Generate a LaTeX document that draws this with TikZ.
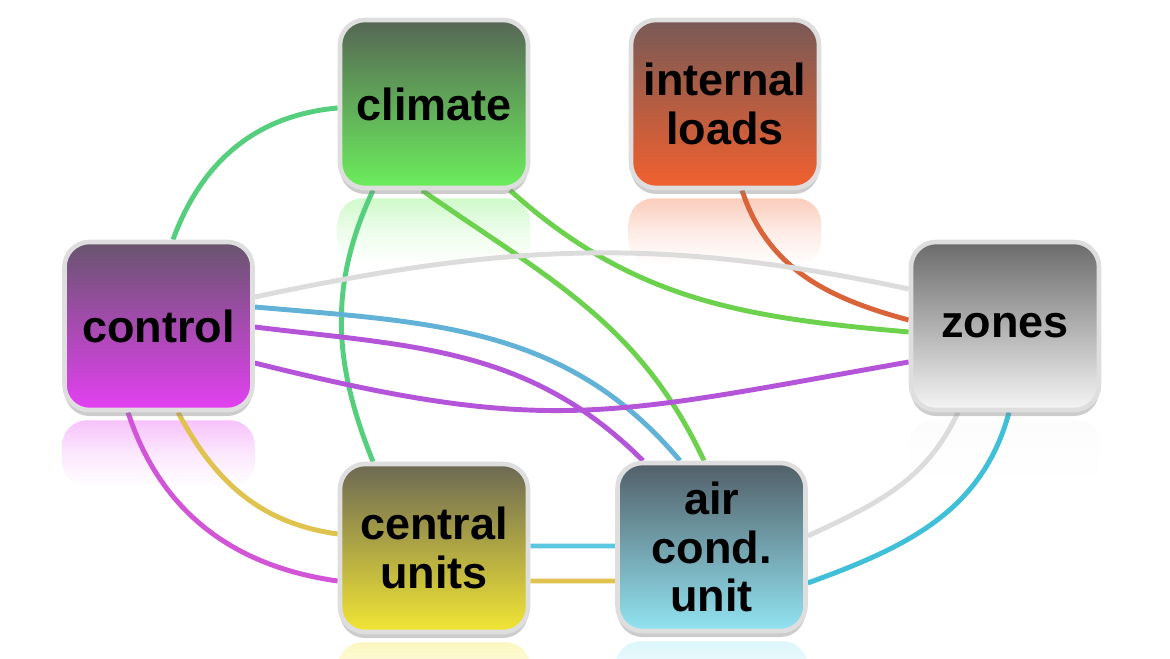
\documentclass[tikz,border=0pt]{standalone}
\usepackage{fontspec}
\setmainfont{Liberation Sans}
\usetikzlibrary{shadows}
\pgfdeclarelayer{refl}
\pgfdeclarelayer{wires}
\pgfsetlayers{refl,wires,main}
\definecolor{boxRim}{HTML}{DEDEDE}
\definecolor{climTop}{HTML}{566655}
\definecolor{climBot}{HTML}{6BEE5C}
\definecolor{loadTop}{HTML}{785A56}
\definecolor{loadBot}{HTML}{F2602E}
\definecolor{ctrlTop}{HTML}{68556E}
\definecolor{ctrlBot}{HTML}{E440F2}
\definecolor{zoneTop}{HTML}{6B6B6B}
\definecolor{zoneBot}{HTML}{F5F5F5}
\definecolor{centTop}{HTML}{6C6854}
\definecolor{centBot}{HTML}{F2E634}
\definecolor{acuTop}{HTML}{525F68}
\definecolor{acuBot}{HTML}{92E4F2}
\definecolor{greenA}{HTML}{55CF7E}
\definecolor{greenB}{HTML}{6CD24E}
\definecolor{orangeW}{HTML}{D9643A}
\definecolor{grayW}{HTML}{DCDCDC}
\definecolor{blueW}{HTML}{62B2D8}
\definecolor{purpleW}{HTML}{B455D9}
\definecolor{magentaW}{HTML}{D255D8}
\definecolor{goldW}{HTML}{E0C24E}
\definecolor{cyanW}{HTML}{5CC8E0}
\definecolor{cyanWW}{HTML}{3FC0D8}
\begin{document}
\begin{tikzpicture}[block/.style={rectangle,rounded corners=2.5mm,draw=boxRim,line width=1.3pt,
    minimum width=1.88cm,minimum height=1.68cm,align=center,
    font=\fontsize{12.8}{13.8}\selectfont\bfseries,
    drop shadow={shadow xshift=0pt,shadow yshift=-0.6mm,opacity=.4}},
  wire/.style={line width=1.4pt}]
\useasboundingbox (0,0) rectangle (11.70,6.58);
\path
(4.34,5.54) node [block,top color=climTop,bottom color=climBot] (climate) {climate}
(7.25,5.54) node [block,top color=loadTop,bottom color=loadBot] (loads) {internal\\loads}
(1.585,3.32) node [block,top color=ctrlTop,bottom color=ctrlBot] (control) {control}
(10.05,3.32) node [block,top color=zoneTop,bottom color=zoneBot] (zones) {zones}
(4.34,1.10) node [block,top color=centTop,bottom color=centBot] (central) {central\\units}
(7.115,1.11) node [block,top color=acuTop,bottom color=acuBot] (acu) {air\\cond.\\unit}
;
%reflections
\begin{pgfonlayer}{refl}
\foreach \n/\c in {climate/climBot,loads/loadBot,control/ctrlBot,zones/zoneBot,central/centBot,acu/acuBot}
  \shade[top color=\c!32!white,bottom color=white,middle color=\c!12!white,rounded corners=2.5mm]
    ([yshift=-0.8mm]\n.south west) rectangle ([yshift=-7.5mm]\n.south east);
\end{pgfonlayer}
\begin{pgfonlayer}{wires}
\draw[wire,greenA] ([yshift=-0.4mm]climate.west) to[out=185,in=70] ([xshift=1.45mm]control.north);
\draw[wire,greenA] ([xshift=-6.1mm]climate.south) to[out=245,in=112] ([xshift=-6.1mm]central.north);
\draw[wire,greenB] ([xshift=-1.2mm]climate.south) to[out=-35,in=115] ([xshift=-0.75mm]acu.north);
\draw[wire,greenB] ([xshift=7.6mm]climate.south) to[out=-42,in=175] ([yshift=-0.6mm]zones.west);
\draw[wire,orangeW] ([xshift=1.7mm]loads.south) to[out=-72,in=165] ([yshift=0.6mm]zones.west);
\draw[wire,grayW] ([yshift=2.9mm]control.east) to[out=12,in=168] ([yshift=3.7mm]zones.west);
\draw[wire,blueW] ([yshift=1.9mm]control.east) to[out=-5,in=130] ([xshift=-3.15mm]acu.north);
\draw[wire,purpleW] ([yshift=-0.1mm]control.east) to[out=-7,in=135] ([xshift=-6.85mm]acu.north);
\draw[wire,purpleW] ([yshift=-3.7mm]control.east) to[out=-14,in=190,looseness=1.2] ([yshift=-3.6mm]zones.west);
\draw[wire,magentaW] ([xshift=-3.05mm]control.south) to[out=-72,in=172] ([yshift=-3.3mm]central.west);
\draw[wire,goldW] ([xshift=1.95mm]control.south) to[out=-62,in=172] ([yshift=1.4mm]central.west);
\draw[wire,cyanW] ([yshift=0.2mm]central.east) -- ([yshift=0.1mm]acu.west);
\draw[wire,goldW] ([yshift=-3.3mm]central.east) -- ([yshift=-3.4mm]acu.west);
\draw[wire,grayW] ([xshift=-4.7mm]zones.south) to[out=245,in=25] ([yshift=1.1mm]acu.east);
\draw[wire,cyanWW] ([xshift=0.4mm]zones.south) to[out=255,in=20] ([yshift=-3.6mm]acu.east);
\end{pgfonlayer}
\end{tikzpicture}
\end{document}
